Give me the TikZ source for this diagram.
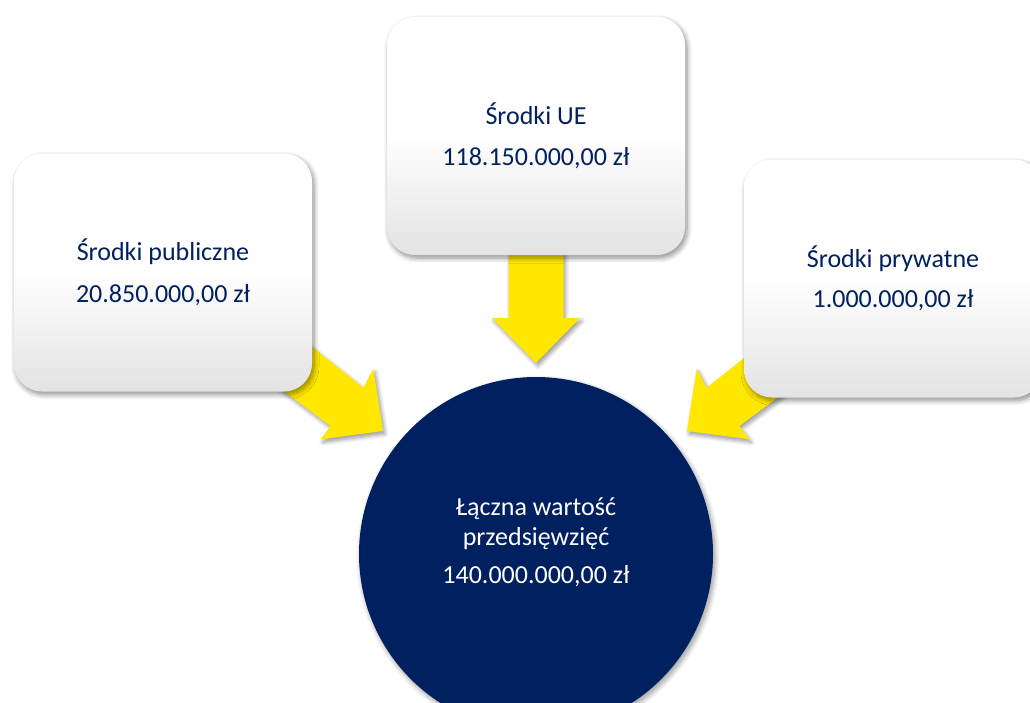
\documentclass[tikz,border=0pt]{standalone}
\usepackage{fontspec}
\setmainfont{Carlito}
\usetikzlibrary{shadows.blur}
\definecolor{navy}{HTML}{002060}
\definecolor{ayellow}{HTML}{FFE700}
\begin{document}
\begin{tikzpicture}[x=1pt,y=-1pt,
  srcbox/.style={rectangle, rounded corners=28pt, minimum width=298pt, minimum height=238pt,
    inner sep=0pt, top color=white, bottom color=black!11, middle color=white,
    blur shadow={shadow xshift=2pt, shadow yshift=-3pt, shadow blur steps=8, shadow blur radius=5pt, shadow opacity=45}},
  total/.style={circle, minimum size=354pt, inner sep=0pt, fill=navy,
    blur shadow={shadow xshift=2pt, shadow yshift=-3pt, shadow blur steps=8, shadow blur radius=5pt, shadow opacity=40}},
  yarrow/.style={fill=ayellow,
    blur shadow={shadow xshift=2pt, shadow yshift=-3pt, shadow blur steps=6, shadow blur radius=4pt, shadow opacity=40}},
  lbl/.style={anchor=base, inner sep=0pt, font=\fontsize{26}{31}\selectfont, text=navy},
  wlbl/.style={lbl, text=white}]
\useasboundingbox (0,0) rectangle (1030,702);
\clip (0,0) rectangle (1030,702);

% arrows (behind boxes)
\coordinate (tipT) at (536,363);
\coordinate (tipL) at (383,431);
\coordinate (tipR) at (687,431);
\fill[yarrow] (tipT) -- (580,318) -- (563.5,318) -- (563.5,220) -- (508.5,220) -- (508.5,318) -- (492,318) -- cycle;
\fill[yarrow] (tipL) -- (373.3,368.9) -- (363.4,387.7) -- (243.2,292.4) -- (210.4,336.4) -- (330.6,426.1) -- (320.7,439.3) -- cycle;
\fill[yarrow] (tipR) -- (696.7,368.9) -- (706.6,387.7) -- (826.8,292.4) -- (859.6,336.4) -- (739.4,426.1) -- (749.3,439.3) -- cycle;

% source boxes
\node[srcbox] (pub) at (163,272.5) {};
\node[srcbox] (ue) at (536,136) {};
\node[srcbox] (prv) at (893,278.5) {};

% total circle
\node[total] (sum) at (536,554) {};

% texts
\node[lbl] (pubA) at (163,260) {Środki publiczne};
\node[lbl] (pubB) at (163,302) {20.850.000,00 zł};
\node[lbl] (ueA) at (536,124) {Środki UE};
\node[lbl] (ueB) at (536,165) {118.150.000,00 zł};
\node[lbl] (prvA) at (893,267) {Środki prywatne};
\node[lbl] (prvB) at (893,307) {1.000.000,00 zł};
\node[wlbl] (sumA) at (536,515) {Łączna wartość};
\node[wlbl] (sumB) at (536,545.5) {przedsięwzięć};
\node[wlbl] (sumC) at (536,583) {140.000.000,00 zł};
\end{tikzpicture}
\end{document}
